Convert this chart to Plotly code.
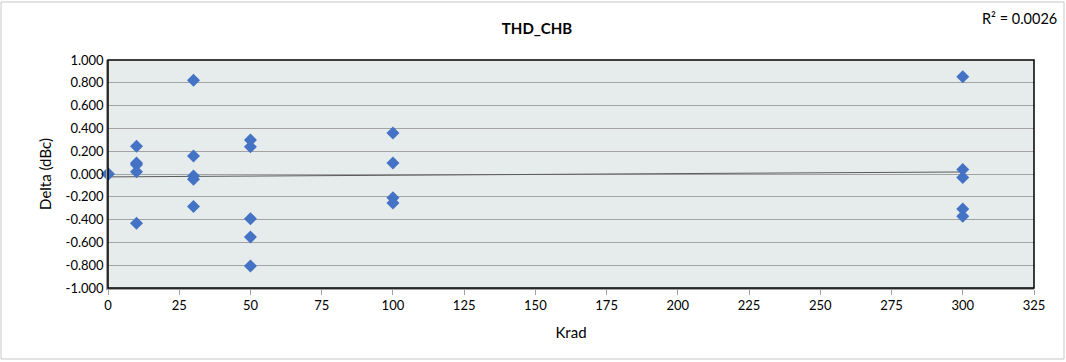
import numpy as np
import plotly.graph_objects as go

# Data (several devices overlap at 0 krad, all 0.000)
krad = [0, 0, 0, 0, 0,
        10, 10, 10, 10, 10, 30, 30, 30, 30, 30, 50, 50, 50, 50, 50,
        100, 100, 100, 100, 300, 300, 300, 300, 300]
delta = [0.000, 0.000, 0.000, 0.000, 0.000,
         0.243, 0.096, 0.082, 0.020, -0.433,
         0.822, 0.158, -0.018, -0.047, -0.284,
         0.298, 0.238, -0.392, -0.553, -0.807,
         0.360, 0.096, -0.208, -0.254,
         0.854, 0.040, -0.030, -0.307, -0.371]

y_ticks = [-1.0, -0.8, -0.6, -0.4, -0.2, 0.0, 0.2, 0.4, 0.6, 0.8, 1.0]
y_tick_labels = ["-1.000", "-0.800", "-0.600", "-0.400", "-0.200", "0.000",
                 "0.200", "0.400", "0.600", "0.800", "1.000"]
x_ticks = [0, 25, 50, 75, 100, 125, 150, 175, 200, 225, 250, 275, 300, 325]

title_text = "THD_CHB"
r2_text = "R² = 0.0026"

# Linear trendline computed from the data
xa = np.array(krad, dtype=float)
ya = np.array(delta, dtype=float)
slope, intercept = np.polyfit(xa, ya, 1)
trend_x = [min(krad), max(krad)]
trend_y = [intercept + slope * v for v in trend_x]

FONT = "Lato"

fig = go.Figure()
fig.add_trace(go.Scatter(
    x=trend_x, y=trend_y, mode="lines",
    line=dict(color="#5a5a5a", width=1), hoverinfo="skip", showlegend=False))
fig.add_trace(go.Scatter(
    x=krad, y=delta, mode="markers", cliponaxis=False,
    marker=dict(symbol="diamond", size=10, color="#4472C4",
                line=dict(width=0)),
    showlegend=False))

fig.update_layout(
    width=1066, height=362,
    margin=dict(l=108, r=32, t=60, b=74),
    paper_bgcolor="white",
    plot_bgcolor="#E6EBEB",
    font=dict(family=FONT, size=13, color="#000000"),
    title=dict(text="<b>" + title_text + "</b>", x=537 / 1066, xanchor="center",
               y=1 - 29 / 362, yanchor="middle",
               font=dict(family=FONT, size=15, color="#000000")),
    annotations=[dict(text=r2_text, xref="paper", yref="paper",
                      x=(1059 - 108) / 926, y=(288 - 18) / 228, xanchor="right",
                      yanchor="middle", showarrow=False,
                      font=dict(family=FONT, size=14.5, color="#000000"))],
    shapes=[
        dict(type="rect", xref="paper", yref="paper", x0=0, x1=1, y0=0, y1=1,
             line=dict(color="#000000", width=1.5), layer="above"),
        dict(type="rect", xref="paper", yref="paper",
             x0=(1 - 108) / 926, x1=(1064 - 108) / 926,
             y0=(288 - 359) / 228, y1=(288 - 2) / 228,
             line=dict(color="#C8C8C8", width=1), layer="below"),
    ],
)

fig.update_xaxes(
    range=[0, 325], tickvals=x_ticks, ticks="outside", ticklen=5,
    tickcolor="#A0A0A0", showgrid=False, zeroline=False,
    showline=True, linecolor="#A0A0A0", linewidth=1.5,
    tickfont=dict(family=FONT, size=13),
    title=dict(text="Krad", font=dict(family=FONT, size=15), standoff=15))
fig.update_yaxes(
    range=[-1.0, 1.0], tickvals=y_ticks, ticktext=y_tick_labels,
    ticks="", showgrid=True, gridcolor="#A3A3A3", gridwidth=1,
    zeroline=False, showline=True, linecolor="#A0A0A0", linewidth=1.5,
    tickfont=dict(family=FONT, size=13),
    title=dict(text="Delta (dBc)", font=dict(family=FONT, size=15), standoff=10))

fig.write_html("out.html", config={"displayModeBar": False},
               post_script="document.body.style.margin='0';document.body.style.padding='0';")
